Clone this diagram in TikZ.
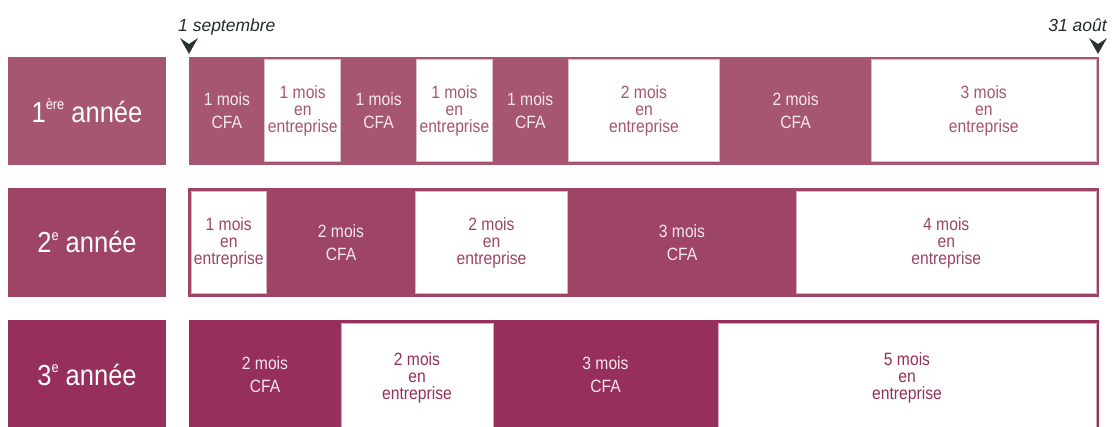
\documentclass[tikz,border=0pt]{standalone}
\usepackage{fontspec}
\setmainfont{Liberation Sans}[FakeStretch=0.88]
\newfontfamily\datefont{Liberation Sans}
\usetikzlibrary{positioning}
\definecolor{rowA}{HTML}{A65670}
\definecolor{rowB}{HTML}{9E4466}
\definecolor{rowC}{HTML}{962F5C}
\definecolor{cfatext}{HTML}{F5E8ED}
\definecolor{dark}{HTML}{2A3432}
\newcommand{\mcell}[7]{%
  \pgfmathsetmacro\cx{(#3+#4)/2}%
  \pgfmathsetmacro\cy{(#5+#6)/2}%
  \pgfmathsetmacro\cw{#4-#3}%
  \pgfmathsetmacro\ch{#6-#5}%
  \node[#2, minimum width=\cw pt, minimum height=\ch pt] (#1) at (\cx,\cy) {#7};}
\newcommand{\ysup}[1]{\raisebox{0.44em}{\fontsize{14.5}{14.5}\selectfont #1}}
\begin{document}
\begin{tikzpicture}[x=1pt,y=-1pt,
  bar/.style={rectangle, inner sep=0, fill=#1, draw=none},
  lab/.style={rectangle, inner sep=0, fill=#1, text=white, font=\fontsize{29}{32}\selectfont},
  cfa/.style={rectangle, inner sep=0, text=cfatext, align=center, font=\fontsize{17.8}{23}\selectfont},
  ent/.style={rectangle, inner sep=0, fill=white, draw=#1!40!white, line width=0.8pt, text=#1, align=center, font=\fontsize{17.8}{17}\selectfont},
  datelab/.style={inner sep=0, text=dark!85!black, font=\datefont\itshape\fontsize{17.5}{17.5}\selectfont},
  marker/.style={fill=dark, draw=none}]
\useasboundingbox (0,0) rectangle (1118,426);
% ---- date markers
\node[datelab, anchor=base west] (sept) at (178,31) {1 septembre};
\node[datelab, anchor=base east] (aout) at (1107,31) {31 août};
\coordinate (m1) at (189,54);
\coordinate (m2) at (1098,54);
\fill[marker] (m1) -- ++(-9,-16) -- ++(9,6) -- ++(9,-6) -- cycle;
\fill[marker] (m2) -- ++(-9,-16) -- ++(9,6) -- ++(9,-6) -- cycle;
% ---- row 1
\mcell{l1}{lab=rowA}{8}{166}{57}{165}{1\ysup{ère} année}
\mcell{b1}{bar=rowA}{189}{1099}{56.5}{164.7}{}
\mcell{r1c1}{cfa}{189}{264.8}{56.5}{164.7}{1 mois\\CFA}
\mcell{r1c2}{ent=rowA}{264.8}{340.7}{59.5}{161.7}{1 mois\\en\\entreprise}
\mcell{r1c3}{cfa}{340.7}{416.5}{56.5}{164.7}{1 mois\\CFA}
\mcell{r1c4}{ent=rowA}{416.5}{492.3}{59.5}{161.7}{1 mois\\en\\entreprise}
\mcell{r1c5}{cfa}{492.3}{568.2}{56.5}{164.7}{1 mois\\CFA}
\mcell{r1c6}{ent=rowA}{568.2}{719.8}{59.5}{161.7}{2 mois\\en\\entreprise}
\mcell{r1c7}{cfa}{719.8}{871.5}{56.5}{164.7}{2 mois\\CFA}
\mcell{r1c8}{ent=rowA}{871.5}{1096}{59.5}{161.7}{3 mois\\en\\entreprise}
% ---- row 2
\mcell{l2}{lab=rowB}{8}{166}{188.3}{296.5}{2\ysup{e} année}
\mcell{b2}{bar=rowB}{188}{1099}{188.3}{296.5}{}
\mcell{r2c1}{ent=rowB}{191}{266.5}{191.3}{293.5}{1 mois\\en\\entreprise}
\mcell{r2c2}{cfa}{266.5}{415.5}{188.3}{296.5}{2 mois\\CFA}
\mcell{r2c3}{ent=rowB}{415.5}{567.5}{191.3}{293.5}{2 mois\\en\\entreprise}
\mcell{r2c4}{cfa}{567.5}{796.5}{188.3}{296.5}{3 mois\\CFA}
\mcell{r2c5}{ent=rowB}{796.5}{1096}{191.3}{293.5}{4 mois\\en\\entreprise}
% ---- row 3
\mcell{l3}{lab=rowC}{8}{166}{320}{430}{3\ysup{e} année}
\mcell{b3}{bar=rowC}{189}{1099}{320}{430}{}
\mcell{r3c1}{cfa}{189}{341}{320}{430}{2 mois\\CFA}
\mcell{r3c2}{ent=rowC}{341}{493}{323}{433}{2 mois\\en\\entreprise}
\mcell{r3c3}{cfa}{493}{718}{320}{430}{3 mois\\CFA}
\mcell{r3c4}{ent=rowC}{718}{1096}{323}{433}{5 mois\\en\\entreprise}
\end{tikzpicture}
\end{document}
